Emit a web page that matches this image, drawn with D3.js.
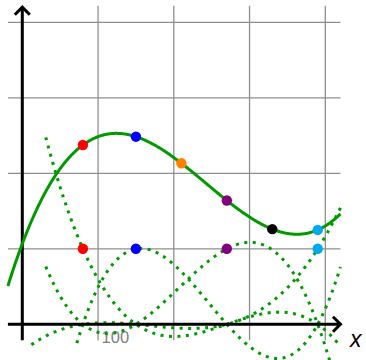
<!DOCTYPE html>
<html>
<head>
<meta charset="utf-8">
<script src="https://cdn.jsdelivr.net/npm/d3@7"></script>
<style>
  html, body { margin: 0; padding: 0; background: #fff; }
  svg { display: block; }
</style>
</head>
<body>
<svg id="chart" width="366" height="360"></svg>
<script>
// Interpolation nodes and the values the cubic passes through
const nodeX = [80, 150, 270, 390];
const nodeY = [2.375, 2.485, 1.64, 1.25];
const nodeColors = ["#ff0000", "#0000ff", "#800080", "#00a8ec"];

// Extra points evaluated on the interpolating cubic
const sampleX = [210, 330];
const sampleColors = ["#ff8000", "#000000"];

// Left end of each dotted basis curve
const basisStart = [31, 72, 31, 12];

// Grid and tick labels
const gridX = [100, 200, 300, 400];
const gridY = [1, 2, 3, 4];
const tickLabels = [{ value: 100, text: "100" }];
const axisLabel = "x";

const width = 366, height = 360;
const svg = d3.select("#chart");

const x = d3.scaleLinear().domain([0, 400]).range([22.3, 325.3]);
const y = d3.scaleLinear().domain([0, 4]).range([324.3, 22.3]);

const xMin = -19, xMax = 420, yMin = -0.21, yMax = 4.2;
const green = "#009a00";

// Lagrange basis polynomial for node i
function basis(i, t) {
  let v = 1;
  for (let j = 0; j < nodeX.length; j++) {
    if (j !== i) v *= (t - nodeX[j]) / (nodeX[i] - nodeX[j]);
  }
  return v;
}
function interp(t) {
  return d3.sum(nodeX, (_, i) => nodeY[i] * basis(i, t));
}

// Grid
const grid = svg.append("g").attr("stroke", "#8f8f8f").attr("stroke-width", 1.3);
grid.selectAll("line.gx").data(gridX).join("line")
  .attr("x1", d => x(d)).attr("x2", d => x(d))
  .attr("y1", y(yMin)).attr("y2", y(yMax) - 1.5);
grid.selectAll("line.gy").data(gridY).join("line")
  .attr("y1", d => y(d)).attr("y2", d => y(d))
  .attr("x1", x(xMin)).attr("x2", x(xMax));

// Tick labels
svg.selectAll("text.tick").data(tickLabels).join("text")
  .attr("x", d => x(d.value) + 3.5)
  .attr("y", y(0) + 19)
  .attr("font-family", "Liberation Sans, Arial, sans-serif")
  .attr("font-size", 16.5)
  .attr("fill", "#808080")
  .text(d => d.text);

const line = d3.line().x(d => x(d[0])).y(d => y(d[1]));

// Dotted basis curves
const basisGroup = svg.append("g");
nodeX.forEach((_, i) => {
  const pts = d3.range(basisStart[i], xMax + 0.5, 1).map(t => [t, basis(i, t)]);
  basisGroup.append("path")
    .attr("d", line(pts))
    .attr("fill", "none")
    .attr("stroke", green)
    .attr("stroke-width", 3)
    .attr("stroke-dasharray", "3,5.5");
});

// Axes with open arrowheads
const axes = svg.append("g").attr("stroke", "#000").attr("stroke-width", 3).attr("fill", "none");
axes.append("line").attr("x1", x(xMin)).attr("x2", x(xMax)).attr("y1", y(0)).attr("y2", y(0));
axes.append("line").attr("x1", x(0)).attr("x2", x(0)).attr("y1", y(yMin)).attr("y2", y(yMax));
axes.append("path")
  .attr("d", `M${x(xMax) - 7.5},${y(0) - 7.5} L${x(xMax)},${y(0)} L${x(xMax) - 7.5},${y(0) + 7.5}`);
axes.append("path")
  .attr("d", `M${x(0) - 7.5},${y(yMax) + 7.5} L${x(0)},${y(yMax)} L${x(0) + 7.5},${y(yMax) + 7.5}`);

// Interpolating cubic
const curvePts = d3.range(xMin, xMax + 0.5, 1).map(t => [t, interp(t)]);
svg.append("path")
  .attr("d", line(curvePts))
  .attr("fill", "none")
  .attr("stroke", green)
  .attr("stroke-width", 3);

// Node markers at value 1 and on the curve
const r = 5.2;
svg.selectAll("circle.unit").data(nodeX).join("circle")
  .attr("cx", d => x(d)).attr("cy", y(1)).attr("r", r)
  .attr("fill", (d, i) => nodeColors[i]);

const onCurve = nodeX.map((d, i) => ({ t: d, c: nodeColors[i] }))
  .concat(sampleX.map((d, i) => ({ t: d, c: sampleColors[i] })));
svg.selectAll("circle.curve").data(onCurve).join("circle")
  .attr("cx", d => x(d.t)).attr("cy", d => y(interp(d.t))).attr("r", r)
  .attr("fill", d => d.c);

// Axis label
svg.append("text")
  .attr("x", 350).attr("y", y(0) + 22.5)
  .attr("font-family", "Liberation Sans, Arial, sans-serif")
  .attr("font-style", "italic")
  .attr("font-size", 23)
  .attr("fill", "#000")
  .text(axisLabel);
</script>
</body>
</html>
